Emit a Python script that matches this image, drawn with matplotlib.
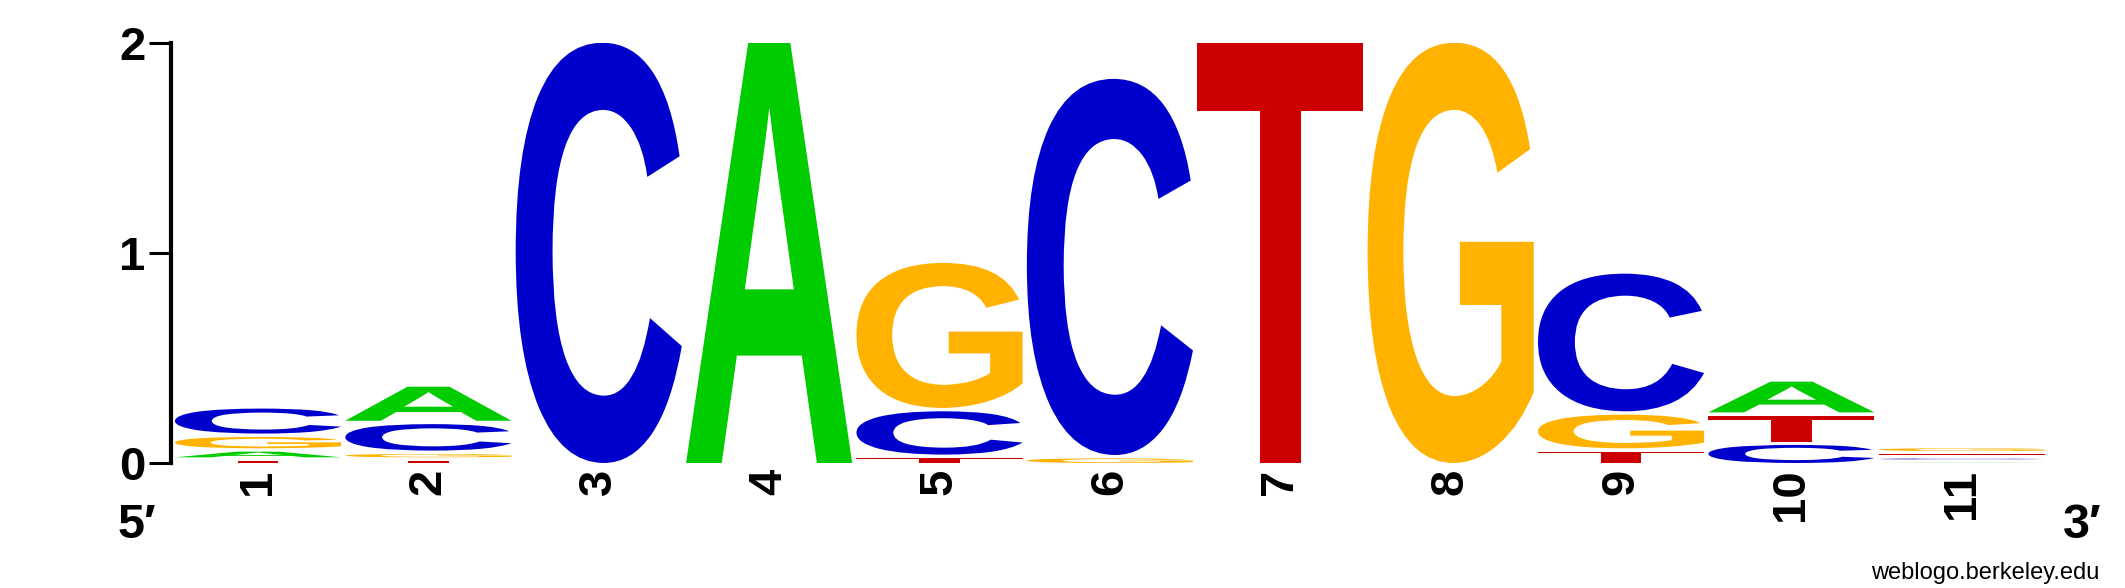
import matplotlib
matplotlib.use("Agg")
import matplotlib.pyplot as plt
from matplotlib.textpath import TextPath
from matplotlib.patches import PathPatch
from matplotlib.font_manager import FontProperties
import matplotlib.transforms as mtrans

# высоты букв (биты) по позициям 1..11
positions = list(range(1, 12))
height_A = [0.027, 0.162, 0.0, 2.0, 0.0, 0.0, 0.0, 0.0, 0.0, 0.146, 0.001]
height_C = [0.119, 0.126, 2.0, 0.0, 0.206, 1.79, 0.0, 0.0, 0.655, 0.086, 0.004]
height_G = [0.054, 0.016, 0.0, 0.0, 0.69, 0.022, 0.0, 2.0, 0.16, 0.0, 0.013]
height_T = [0.011, 0.011, 0.0, 0.0, 0.024, 0.0, 2.0, 0.0, 0.054, 0.123, 0.004]
y_ticks = [0, 1, 2]

colors = {"A": "#00CC00", "C": "#0000CC", "G": "#FFB300", "T": "#CC0000"}
letter_width = 0.975
gap = 0.016

bold = FontProperties(family="Liberation Sans", weight="bold")


def draw_letter(ax, ch, xc, y0, h):
    tp = TextPath((0, 0), ch, size=1, prop=bold)
    bb = tp.get_extents()
    t = (mtrans.Affine2D()
         .translate(-bb.x0, -bb.y0)
         .scale(letter_width / bb.width, h / bb.height)
         .translate(xc - letter_width / 2, y0))
    ax.add_patch(PathPatch(t.transform_path(tp), facecolor=colors[ch],
                           edgecolor="none", lw=0))


W, H = 2125, 588
fig = plt.figure(figsize=(W / 100, H / 100), dpi=100)
x_left, x_right = 170.5, 2047
y_zero, y_two = 463, 42.7
ax = fig.add_axes([x_left / W, 1 - y_zero / H, (x_right - x_left) / W, (y_zero - y_two) / H])

for i, p in enumerate(positions):
    col = [("A", height_A[i]), ("C", height_C[i]), ("G", height_G[i]), ("T", height_T[i])]
    col = sorted([c for c in col if c[1] > 0], key=lambda c: c[1])
    y = 0.0
    for ch, h in col:
        draw_letter(ax, ch, p, y, h)
        y += h + gap

ax.set_xlim(0.4865, 11.5)
ax.set_ylim(0, 2)

for s in ["top", "right", "bottom"]:
    ax.spines[s].set_visible(False)
ax.spines["left"].set_linewidth(3)

ax.set_yticks(y_ticks)
ax.set_yticklabels([str(v) for v in y_ticks])
ax.tick_params(axis="y", direction="out", length=16, width=2.2, pad=2)
ax.set_xticks(positions)
ax.set_xticklabels([str(p) for p in positions], rotation=90)
ax.tick_params(axis="x", length=0, pad=4)
for lab in ax.get_xticklabels() + ax.get_yticklabels():
    lab.set_fontproperties(bold)
    lab.set_fontsize(34)

fig.text(118 / W, 1 - 538 / H, "5\u2032", fontsize=35, fontweight="bold",
         family=["Liberation Sans", "DejaVu Sans"], ha="left", va="baseline")
fig.text(2063 / W, 1 - 538 / H, "3\u2032", fontsize=35, fontweight="bold",
         family=["Liberation Sans", "DejaVu Sans"], ha="left", va="baseline")
fig.text(2099 / W, 1 - 579 / H, "weblogo.berkeley.edu", fontsize=17,
         family="Liberation Sans", ha="right", va="baseline")

fig.savefig("out.png", dpi=100)
